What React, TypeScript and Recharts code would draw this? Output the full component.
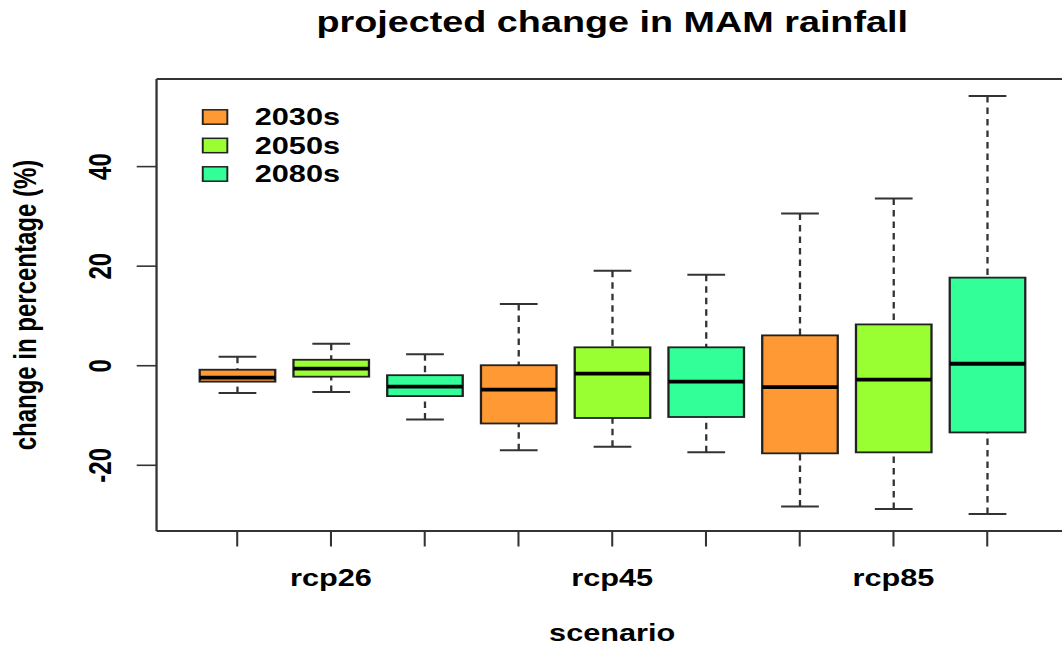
import { Bar, CartesianGrid, ComposedChart, Legend, XAxis, YAxis } from "recharts";

const SCENARIOS = ["rcp26", "rcp45", "rcp85"];
const PERIODS = ["2030s", "2050s", "2080s"];
const FILLS = ["#FF9933", "#99FF33", "#33FF99"];

// five-number summaries, scenario-major order (rcp26 2030s, 2050s, 2080s, rcp45 ...)
const whiskerLow = [-5.5, -5.3, -10.8, -17.0, -16.3, -17.4, -28.3, -28.8, -29.8];
const quartile1 = [-3.2, -2.2, -6.1, -11.6, -10.5, -10.3, -17.6, -17.4, -13.4];
const medians = [-2.4, -0.6, -4.2, -4.8, -1.6, -3.2, -4.3, -2.8, 0.4];
const quartile3 = [-0.8, 1.2, -1.9, 0.1, 3.7, 3.7, 6.1, 8.3, 17.7];
const whiskerHigh = [1.8, 4.4, 2.3, 12.4, 19.1, 18.3, 30.6, 33.6, 54.2];

const Y_TICKS = [-20, 0, 20, 40];
const Y_DOMAIN: [number, number] = [-33.2, 57.6];

type Row = {
  key: string;
  scenario: string;
  period: string;
  min: number;
  q1: number;
  median: number;
  q3: number;
  max: number;
  fill: string;
};

const rows: Row[] = SCENARIOS.flatMap((scenario, i) =>
  PERIODS.map((period, j) => {
    const k = i * PERIODS.length + j;
    return {
      key: `${scenario}-${period}`,
      scenario,
      period,
      min: whiskerLow[k],
      q1: quartile1[k],
      median: medians[k],
      q3: quartile3[k],
      max: whiskerHigh[k],
      fill: FILLS[j],
    };
  })
);

// R-style output is a bit wide, so the whole plot is drawn narrow and stretched
const STRETCH = 1.28;
const W = 850;
const H = 648;
const Y_AXIS_W = 122.3;
const X_PAD = 26.4;
const MARGIN = { top: 79, right: 15.7, bottom: 0, left: 0 };
const PLOT_CENTER = MARGIN.left + Y_AXIS_W + (W - MARGIN.left - MARGIN.right - Y_AXIS_W) / 2;

const FONT = '"Liberation Sans", Arial, Helvetica, sans-serif';
const INK = "#333";

function BoxShape(props: any) {
  const { x, y, width, height, payload } = props;
  const d = payload as Row;
  const top = Math.min(y, y + height);
  const bottom = Math.max(y, y + height);
  const py = (v: number) => top + ((d.max - v) / (d.max - d.min)) * (bottom - top);
  const cx = x + width / 2;
  const cap = width / 4;
  return (
    <g>
      <line x1={cx} x2={cx} y1={py(d.max)} y2={py(d.q3)} stroke={INK} strokeWidth={1.8} strokeDasharray="6.5 5" />
      <line x1={cx} x2={cx} y1={py(d.min)} y2={py(d.q1)} stroke={INK} strokeWidth={1.8} strokeDasharray="6.5 5" />
      <line x1={cx - cap} x2={cx + cap} y1={py(d.max)} y2={py(d.max)} stroke={INK} strokeWidth={2} />
      <line x1={cx - cap} x2={cx + cap} y1={py(d.min)} y2={py(d.min)} stroke={INK} strokeWidth={2} />
      <rect x={x} y={py(d.q3)} width={width} height={py(d.q1) - py(d.q3)} fill={d.fill} stroke="#222" strokeWidth={1.8} />
      <line x1={x} x2={x + width} y1={py(d.median)} y2={py(d.median)} stroke="#000" strokeWidth={3.8} />
    </g>
  );
}

function ScenarioTick(props: any) {
  const { x, y, index } = props;
  const row = rows[index];
  if (!row || row.period !== PERIODS[1]) return null;
  return (
    <text x={x} y={y} textAnchor="middle" fontFamily={FONT} fontWeight="bold" fontSize={24} fill="#000">
      {row.scenario}
    </text>
  );
}

function ValueTick(props: any) {
  const { x, y, payload } = props;
  return (
    <text
      x={x}
      y={y}
      transform={`rotate(-90 ${x} ${y})`}
      textAnchor="middle"
      fontFamily={FONT}
      fontWeight="bold"
      fontSize={24}
      fill="#000"
    >
      {payload.value}
    </text>
  );
}

function YTitle(props: any) {
  const vb = props.viewBox ?? { x: 0, y: 0, width: 0, height: 0 };
  const lx = vb.x + 27.8;
  const ly = vb.y + vb.height / 2;
  return (
    <text
      x={lx}
      y={ly}
      transform={`rotate(-90 ${lx} ${ly})`}
      textAnchor="middle"
      fontFamily={FONT}
      fontWeight="bold"
      fontSize={24}
      fill="#000"
    >
      change in percentage (%)
    </text>
  );
}

function PeriodLegend() {
  return (
    <svg width={130} height={95} style={{ display: "block" }}>
      {PERIODS.map((p, i) => {
        const cy = 17 + i * 28.5;
        return (
          <g key={p}>
            <rect x={8.4} y={cy - 7.2} width={19.2} height={14.4} fill={FILLS[i]} stroke="#222" strokeWidth={1.5} />
            <text x={49} y={cy + 8.5} fontFamily={FONT} fontWeight="bold" fontSize={24} fill="#000">
              {p}
            </text>
          </g>
        );
      })}
    </svg>
  );
}

export default function App() {
  return (
    <div style={{ position: "fixed", left: 0, top: 0, width: 1062, height: H, overflow: "hidden", background: "#fff" }}>
      <div style={{ width: W, height: H, transform: `scaleX(${STRETCH})`, transformOrigin: "0 0" }}>
        <ComposedChart width={W} height={H} data={rows} margin={MARGIN} barCategoryGap="10%">
          <text x={PLOT_CENTER} y={32} textAnchor="middle" fontFamily={FONT} fontWeight="bold" fontSize={29.5} fill="#000">
            projected change in MAM rainfall
          </text>
          <CartesianGrid
            stroke={INK}
            strokeWidth={1.8}
            strokeDasharray=""
            horizontalCoordinatesGenerator={({ offset }: any) => [offset.top, offset.top + offset.height]}
            verticalCoordinatesGenerator={({ offset }: any) => [offset.left, offset.left + offset.width]}
          />
          <XAxis
            dataKey="key"
            height={117}
            interval={0}
            padding={{ left: X_PAD, right: X_PAD }}
            axisLine={false}
            tickSize={15.5}
            tickMargin={39.5}
            tickLine={{ stroke: INK, strokeWidth: 1.6 }}
            tick={<ScenarioTick />}
            label={{
              value: "scenario",
              position: "insideBottom",
              offset: 7,
              style: { fontFamily: FONT, fontWeight: "bold", fontSize: 24, fill: "#000" },
            }}
          />
          <YAxis
            type="number"
            width={Y_AXIS_W}
            domain={Y_DOMAIN}
            ticks={Y_TICKS}
            interval={0}
            allowDataOverflow
            axisLine={false}
            tickSize={15.5}
            tickMargin={20}
            tickLine={{ stroke: INK, strokeWidth: 1.6 }}
            tick={<ValueTick />}
            label={<YTitle />}
          />
          <Legend
            layout="vertical"
            align="center"
            verticalAlign="middle"
            wrapperStyle={{ left: 150, top: 100, width: 130 }}
            content={() => <PeriodLegend />}
          />
          <Bar
            dataKey={(d: Row) => [d.min, d.max]}
            shape={(p: any) => <BoxShape {...p} />}
            isAnimationActive={false}
          />
        </ComposedChart>
      </div>
    </div>
  );
}
